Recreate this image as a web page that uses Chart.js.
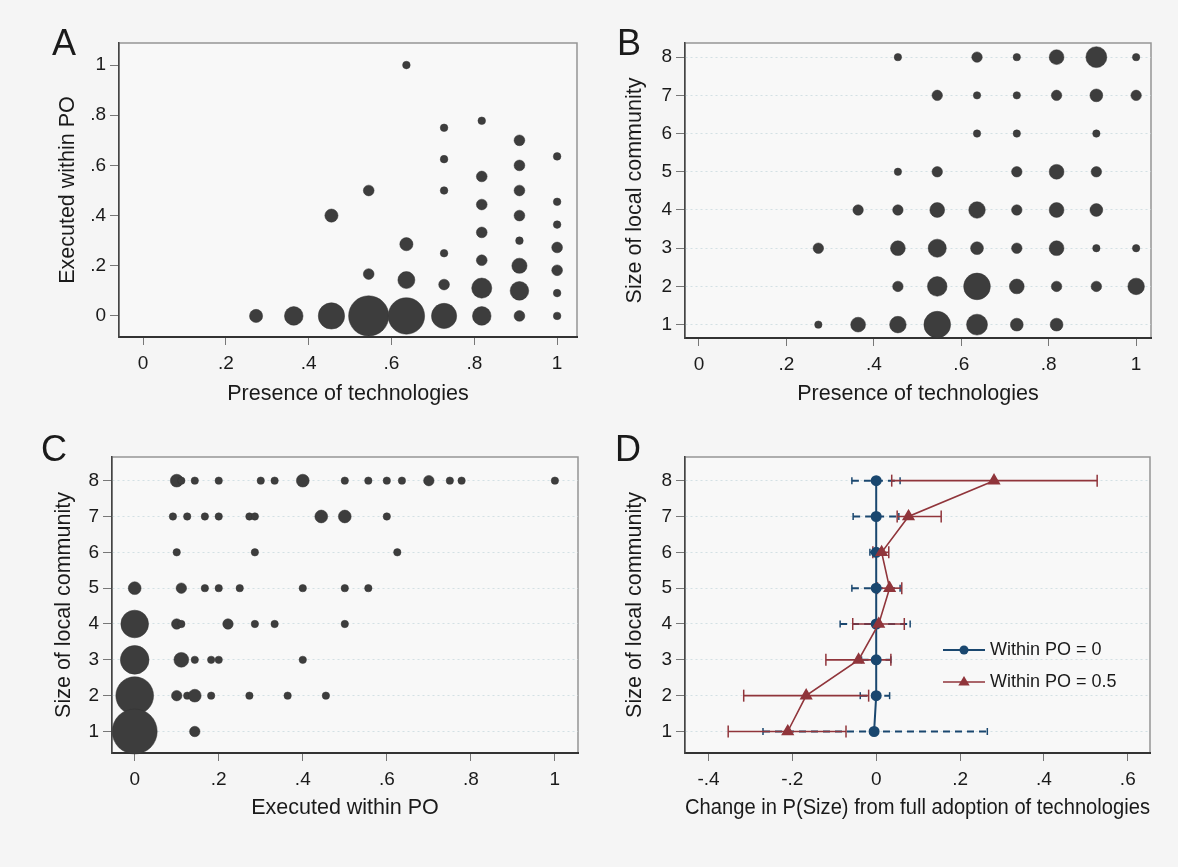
<!DOCTYPE html>
<html>
<head>
<meta charset="utf-8">
<title>Technologies, PO execution and community size</title>
<script src="https://cdn.jsdelivr.net/npm/chart.js@4.4.1/dist/chart.umd.min.js"></script>
<style>
  body { margin: 0; background: #f5f5f5; }
  #fig { position: relative; width: 1178px; height: 867px; background: #f5f5f5;
         font-family: "Liberation Sans", Arial, sans-serif; overflow: hidden; }
  #fig canvas { position: absolute; }
  .tag { position: absolute; font-size: 36px; line-height: 36px; color: #1a1a1a; }
</style>
</head>
<body>
<div id="fig">
  <canvas id="chartA" width="590" height="430" style="left:0;top:0"></canvas>
  <canvas id="chartB" width="588" height="430" style="left:590px;top:0"></canvas>
  <canvas id="chartC" width="590" height="437" style="left:0;top:430px"></canvas>
  <canvas id="chartD" width="588" height="437" style="left:590px;top:430px"></canvas>
  <div class="tag" style="left:52px;top:25px">A</div>
  <div class="tag" style="left:617px;top:25px">B</div>
  <div class="tag" style="left:41px;top:431px">C</div>
  <div class="tag" style="left:615px;top:431px">D</div>
</div>
<script>
// ---- data ----
// tick values / labels
const propTicks = [0, 0.2, 0.4, 0.6, 0.8, 1];
const propLabels = ['0', '.2', '.4', '.6', '.8', '1'];
const sizeTicks = [1, 2, 3, 4, 5, 6, 7, 8];
const sizeLabels = ['1', '2', '3', '4', '5', '6', '7', '8'];
const changeTicks = [-0.4, -0.2, 0, 0.2, 0.4, 0.6];
const changeLabels = ['-.4', '-.2', '0', '.2', '.4', '.6'];

// A: presence of technologies vs executed within PO (count = number of obs)
const techA  = [0.273, 0.364, 0.455, 0.455, 0.545, 0.545, 0.545, 0.636, 0.636, 0.636, 0.636,
                0.727, 0.727, 0.727, 0.727, 0.727, 0.727,
                0.818, 0.818, 0.818, 0.818, 0.818, 0.818, 0.818,
                0.909, 0.909, 0.909, 0.909, 0.909, 0.909, 0.909, 0.909,
                1, 1, 1, 1, 1, 1, 1];
const execA  = [0, 0, 0, 0.4, 0, 0.167, 0.5, 0, 0.143, 0.286, 1,
                0, 0.125, 0.25, 0.5, 0.625, 0.75,
                0, 0.111, 0.222, 0.333, 0.444, 0.556, 0.778,
                0, 0.1, 0.2, 0.3, 0.4, 0.5, 0.6, 0.7,
                0, 0.091, 0.182, 0.273, 0.364, 0.455, 0.636];
const countA = [3, 6, 12, 3, 28, 2, 2, 23, 5, 3, 1,
                11, 2, 1, 1, 1, 1,
                6, 7, 2, 2, 2, 2, 1,
                2, 6, 4, 1, 2, 2, 2, 2,
                1, 1, 2, 2, 1, 1, 1];

// B: presence of technologies vs size of local community
const techB  = [0.455, 0.636, 0.727, 0.818, 0.909, 1,
                0.545, 0.636, 0.727, 0.818, 0.909, 1,
                0.636, 0.727, 0.909,
                0.455, 0.545, 0.727, 0.818, 0.909,
                0.364, 0.455, 0.545, 0.636, 0.727, 0.818, 0.909,
                0.273, 0.455, 0.545, 0.636, 0.727, 0.818, 0.909, 1,
                0.455, 0.545, 0.636, 0.727, 0.818, 0.909, 1,
                0.273, 0.364, 0.455, 0.545, 0.636, 0.727, 0.818];
const sizeB  = [8, 8, 8, 8, 8, 8,
                7, 7, 7, 7, 7, 7,
                6, 6, 6,
                5, 5, 5, 5, 5,
                4, 4, 4, 4, 4, 4, 4,
                3, 3, 3, 3, 3, 3, 3, 3,
                2, 2, 2, 2, 2, 2, 2,
                1, 1, 1, 1, 1, 1, 1];
const countB = [1, 2, 1, 4, 8, 1,
                2, 1, 1, 2, 3, 2,
                1, 1, 1,
                1, 2, 2, 4, 2,
                2, 2, 4, 5, 2, 4, 3,
                2, 4, 6, 3, 2, 4, 1, 1,
                2, 7, 13, 4, 2, 2, 5,
                1, 4, 5, 13, 8, 3, 3];

// C: executed within PO vs size of local community
const execC  = [0.1, 0.111, 0.143, 0.2, 0.3, 0.333, 0.4, 0.5, 0.556, 0.6, 0.636, 0.7, 0.75, 0.778, 1,
                0.091, 0.125, 0.167, 0.2, 0.273, 0.286, 0.444, 0.5, 0.6,
                0.1, 0.286, 0.625,
                0, 0.111, 0.167, 0.2, 0.25, 0.4, 0.5, 0.556,
                0, 0.1, 0.111, 0.222, 0.286, 0.333, 0.5,
                0, 0.111, 0.143, 0.182, 0.2, 0.4,
                0, 0.1, 0.125, 0.143, 0.182, 0.273, 0.364, 0.455,
                0, 0.143];
const sizeC  = [8, 8, 8, 8, 8, 8, 8, 8, 8, 8, 8, 8, 8, 8, 8,
                7, 7, 7, 7, 7, 7, 7, 7, 7,
                6, 6, 6,
                5, 5, 5, 5, 5, 5, 5, 5,
                4, 4, 4, 4, 4, 4, 4,
                3, 3, 3, 3, 3, 3,
                2, 2, 2, 2, 2, 2, 2, 2,
                1, 1];
const countC = [3, 1, 1, 1, 1, 1, 3, 1, 1, 1, 1, 2, 1, 1, 1,
                1, 1, 1, 1, 1, 1, 3, 3, 1,
                1, 1, 1,
                3, 2, 1, 1, 1, 1, 1, 1,
                14, 2, 1, 2, 1, 1, 1,
                15, 4, 1, 1, 1, 1,
                26, 2, 1, 3, 1, 1, 1, 1,
                37, 2];

// D: change in P(size) from full adoption of technologies
const sizesD  = [1, 2, 3, 4, 5, 6, 7, 8];
const po0Est  = [-0.005, 0, 0, 0, 0, 0, 0, 0];
const po0Lo   = [-0.27, -0.038, -0.035, -0.086, -0.058, -0.015, -0.055, -0.058];
const po0Hi   = [0.265, 0.032, 0.035, 0.081, 0.057, 0.015, 0.054, 0.057];
const po5Est  = [-0.211, -0.167, -0.042, 0.006, 0.032, 0.013, 0.077, 0.281];
const po5Lo   = [-0.353, -0.316, -0.12, -0.056, 0.003, -0.008, 0.05, 0.037];
const po5Hi   = [-0.072, -0.018, 0.035, 0.067, 0.061, 0.03, 0.155, 0.527];

// ---- styling helpers ----
const FONT = "'Liberation Sans', Arial, sans-serif";
const INK = '#1a1a1a';
const DOT = '#3d3d3d';
const BLUE = '#1a476f';
const RED = '#90353b';

const frame = {
  id: 'frame',
  beforeDraw(chart) {
    const { ctx, chartArea: a } = chart;
    ctx.save();
    ctx.fillStyle = '#f8f8f8';
    ctx.fillRect(a.left, a.top, a.width, a.height);
    ctx.strokeStyle = '#959595';
    ctx.lineWidth = 1.5;
    ctx.strokeRect(a.left, a.top, a.width, a.height);
    ctx.restore();
  }
};

function xAxis(min, max, values, labels, title, height, titlePad) {
  return {
    type: 'linear', min, max,
    afterBuildTicks: s => { s.ticks = values.map(v => ({ value: v })); },
    afterFit: s => { s.height = height; s.paddingLeft = 0; s.paddingRight = 0; },
    grid: { drawOnChartArea: false, tickLength: 8, tickColor: '#777', tickWidth: 1 },
    border: { color: '#333', width: 2 },
    ticks: { autoSkip: false, maxRotation: 0, minRotation: 0, padding: 7, color: INK,
             font: { family: FONT, size: 19 }, callback: (v, i) => labels[i] },
    title: { display: true, text: title, color: INK, font: { family: FONT, size: 21.5 },
             padding: { top: 0, bottom: titlePad } }
  };
}

function yAxis(min, max, values, labels, title, width, titlePad, gridOn) {
  return {
    type: 'linear', min, max,
    afterBuildTicks: s => { s.ticks = values.map(v => ({ value: v })); },
    afterFit: s => { s.width = width; s.paddingTop = 0; s.paddingBottom = 0; },
    grid: { drawOnChartArea: gridOn, color: '#d3e0e4', lineWidth: 1, tickLength: 9,
            tickColor: '#777', tickWidth: 1, tickBorderDash: [] },
    border: { color: '#444', width: 1.5, dash: [2, 3] },
    ticks: { autoSkip: false, padding: 4, color: INK, font: { family: FONT, size: 19 },
             callback: (v, i) => labels[i] },
    title: { display: true, text: title, color: INK, font: { family: FONT, size: 21.5 },
             padding: { top: titlePad, bottom: 0 } }
  };
}

function bubbles(xs, ys, ws, unit) {
  return xs.map((x, i) => ({ x, y: ys[i], r: unit * Math.sqrt(ws[i]) }));
}

function baseOptions(padding, x, y) {
  return {
    responsive: false, animation: false, devicePixelRatio: 1, events: [],
    layout: { padding, autoPadding: false },
    plugins: { legend: { display: false }, tooltip: { enabled: false } },
    scales: { x, y }
  };
}

function bubbleChart(id, points, padding, x, y) {
  return new Chart(document.getElementById(id), {
    type: 'bubble',
    data: { datasets: [{ data: points, backgroundColor: DOT, borderColor: '#333',
                         borderWidth: 0.5, clip: false }] },
    options: baseOptions(padding, x, y),
    plugins: [frame]
  });
}

// ---- A ----
bubbleChart('chartA', bubbles(techA, execA, countA, 3.8),
  { top: 43, right: 13, left: 0, bottom: 0 },
  xAxis(-0.058, 1.048, propTicks, propLabels, 'Presence of technologies', 93, 23),
  yAxis(-0.084, 1.088, propTicks, propLabels, 'Executed within PO', 119, 55, false));

// ---- B ----
bubbleChart('chartB', bubbles(techB, sizeB, countB, 3.7),
  { top: 43, right: 27, left: 0, bottom: 0 },
  xAxis(-0.032, 1.034, propTicks, propLabels, 'Presence of technologies', 92, 23),
  yAxis(0.65, 8.37, sizeTicks, sizeLabels, 'Size of local community', 95, 32, true));

// ---- C ----
bubbleChart('chartC', bubbles(execC, sizeC, countC, 3.7),
  { top: 27, right: 12, left: 0, bottom: 0 },
  xAxis(-0.054, 1.055, propTicks, propLabels, 'Executed within PO', 114, 46),
  yAxis(0.40, 8.66, sizeTicks, sizeLabels, 'Size of local community', 112, 51, true));

// ---- D ----
// legend drawn inside the plot region, rows in legendRow order
const insideLegend = {
  id: 'insideLegend',
  afterDatasetsDraw(chart) {
    const { ctx } = chart;
    const items = chart.data.datasets.filter(d => d.legendRow !== undefined)
      .sort((a, b) => a.legendRow - b.legendRow);
    items.forEach((d, i) => {
      const y = 220 + i * 32;
      ctx.save();
      ctx.strokeStyle = d.borderColor;
      ctx.fillStyle = d.borderColor;
      ctx.lineWidth = d.borderWidth;
      ctx.beginPath();
      ctx.moveTo(353, y);
      ctx.lineTo(395, y);
      ctx.stroke();
      ctx.beginPath();
      if (d.pointStyle === 'triangle') {
        const r = d.pointRadius;
        ctx.moveTo(374, y - r);
        ctx.lineTo(374 + r * 0.95, y + r * 0.6);
        ctx.lineTo(374 - r * 0.95, y + r * 0.6);
        ctx.closePath();
      } else {
        ctx.arc(374, y, d.pointRadius, 0, Math.PI * 2);
      }
      ctx.fill();
      ctx.font = '18px ' + FONT;
      ctx.fillStyle = INK;
      ctx.textBaseline = 'middle';
      ctx.fillText(d.label, 400, y);
      ctx.restore();
    });
  }
};

function ciSets(lo, hi, color, dash, cap, width) {
  return sizesD.map((s, i) => ({
    data: [{ x: lo[i], y: s }, { x: hi[i], y: s }],
    showLine: true, borderColor: color, borderWidth: width, borderDash: dash,
    pointStyle: 'line', pointRotation: 90, pointRadius: cap,
    pointBorderColor: color, pointBorderWidth: 1.5, clip: false
  }));
}

// first dataset is drawn on top
const dDatasets = [
  { label: 'Within PO = 0.5', legendRow: 1,
    data: sizesD.map((s, i) => ({ x: po5Est[i], y: s })),
    showLine: true, borderColor: RED, backgroundColor: RED, borderWidth: 1.6,
    pointStyle: 'triangle', pointRadius: 6, pointBackgroundColor: RED, pointBorderColor: RED },
  { label: 'Within PO = 0', legendRow: 0,
    data: sizesD.map((s, i) => ({ x: po0Est[i], y: s })),
    showLine: true, borderColor: BLUE, backgroundColor: BLUE, borderWidth: 2,
    pointStyle: 'circle', pointRadius: 4.5, pointBackgroundColor: BLUE, pointBorderColor: BLUE },
  ...ciSets(po5Lo, po5Hi, RED, [], 6, 1.6),
  ...ciSets(po0Lo, po0Hi, BLUE, [7, 5], 3.5, 2)
];

new Chart(document.getElementById('chartD'), {
  type: 'scatter',
  data: { datasets: dDatasets },
  options: baseOptions({ top: 27, right: 28, left: 0, bottom: 0 },
    xAxis(-0.456, 0.653, changeTicks, changeLabels,
          'Change in P(Size) from full adoption of technologies', 114, 46),
    yAxis(0.40, 8.66, sizeTicks, sizeLabels, 'Size of local community', 95, 32.6, true)),
  plugins: [frame, insideLegend]
});
</script>
</body>
</html>
